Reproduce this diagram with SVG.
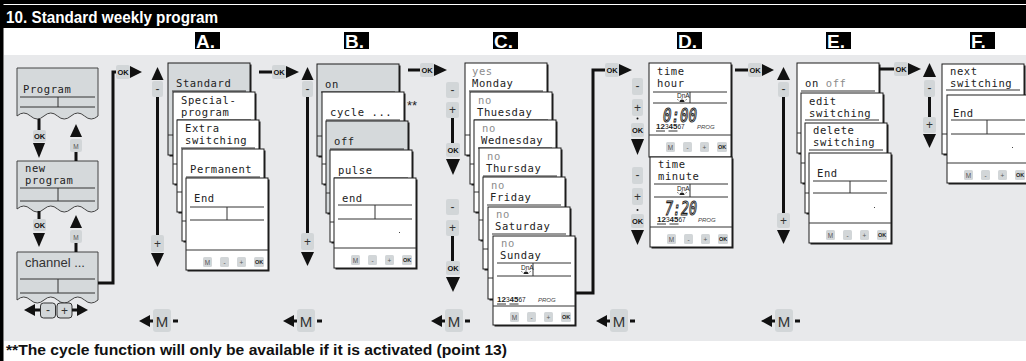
<svg xmlns="http://www.w3.org/2000/svg" width="1026" height="361" viewBox="0 0 1026 361">
<defs>
<style>
.lcd{font-family:"DejaVu Sans Mono","Liberation Mono",monospace;font-size:10.5px;letter-spacing:0.6px;fill:#222}
.dim{fill:#8c8c8c}
.cd{fill:#fff;stroke:#1c1c1c;stroke-width:1}
.cg{fill:#d5d9db;stroke:#1c1c1c;stroke-width:1}
.pb{fill:#d5d9db;stroke:#444;stroke-width:1}
.sh{fill:#1c1c1c}
.ln{stroke:#333;stroke-width:1;fill:none}
.th{stroke:#111;stroke-width:3;fill:none}
.ah{fill:#111}
.key{fill:#d2d6d8}
.kt{font-family:"Liberation Sans",sans-serif;font-size:12px;fill:#333;text-anchor:middle}
.mt{font-family:"Liberation Sans",sans-serif;font-size:15px;fill:#333;text-anchor:middle}
.ok{font-family:"Liberation Sans",sans-serif;font-size:7.5px;font-weight:bold;fill:#111;text-anchor:middle}
.bt{font-family:"Liberation Sans",sans-serif;font-size:6.5px;fill:#555;text-anchor:middle}
.bo{font-family:"Liberation Sans",sans-serif;font-size:5.5px;font-weight:bold;fill:#222;text-anchor:middle}
.let{font-family:"Liberation Sans",sans-serif;font-size:19px;font-weight:bold;fill:#fff}
.seg{font-family:"DejaVu Sans Mono",monospace;font-style:italic;font-size:20px;fill:#ffffff;stroke:#1a1a1a;stroke-width:1.1}
.sm{font-family:"Liberation Sans",sans-serif;font-size:6.5px;fill:#222}
.dn{font-family:"Liberation Sans",sans-serif;font-size:6.5px;fill:#222}
.pr{font-family:"Liberation Sans",sans-serif;font-size:6px;font-style:italic;fill:#444}
</style>
<g id="bt">
<rect class="key" x="17" y="0" width="9" height="10" rx="1.5"/><text class="bt" x="21.5" y="7.5">M</text>
<rect class="key" x="34" y="0" width="9" height="10" rx="1.5"/><text class="bt" x="38.5" y="7.5">-</text>
<rect class="key" x="51" y="0" width="9" height="10" rx="1.5"/><text class="bt" x="55.5" y="7.5">+</text>
<rect class="key" x="68" y="0" width="10" height="10" rx="1.5"/><text class="bo" x="73" y="7">OK</text>
</g>
<g id="wk">
<text class="sm"><tspan font-weight="bold" font-size="8">12</tspan><tspan>3</tspan><tspan font-weight="bold" font-size="8">45</tspan><tspan>67</tspan></text>
<line class="ln" x1="0" y1="2" x2="9" y2="2"/><line class="ln" x1="12.5" y1="2" x2="21.5" y2="2"/>
<text class="pr" x="41" y="0">PROG</text>
</g>
<g id="dna">
<text class="dn" x="0" y="0">DnA</text>
<path d="M2.5,4 a2.5,2.5 0 0 1 5,0 z" fill="#222"/>
<path d="M5,0.8 V0 M1.5,2.2 L0.3,1.4 M8.5,2.2 L9.7,1.4" stroke="#222" stroke-width="0.7"/>
</g>
</defs>

<!-- frame and header -->
<rect x="0" y="0" width="1026" height="361" fill="#fff"/>
<rect x="0" y="0" width="1026" height="4" fill="#000"/>
<rect x="0" y="5" width="1026" height="23" fill="#000"/>
<text x="6" y="23" font-family="Liberation Sans, sans-serif" font-weight="bold" font-size="16" fill="#fff" textLength="212" lengthAdjust="spacingAndGlyphs">10. Standard weekly program</text>
<rect x="0" y="0" width="3.5" height="361" fill="#000"/>
<rect x="4" y="55" width="1022" height="286" fill="#e8e9eb"/>
<text x="6" y="355" font-family="Liberation Sans, sans-serif" font-weight="bold" font-size="14" fill="#111" textLength="501" lengthAdjust="spacingAndGlyphs">**The cycle function will only be available if it is activated (point 13)</text>

<!-- section letters -->
<g id="letters">
<rect x="195" y="32" width="25" height="17" fill="#000"/><text class="let" x="196" y="48">A.</text>
<rect x="344" y="32" width="25" height="17" fill="#000"/><text class="let" x="345" y="48">B.</text>
<rect x="493" y="32" width="25" height="17" fill="#000"/><text class="let" x="494" y="48">C.</text>
<rect x="677" y="32" width="25" height="17" fill="#000"/><text class="let" x="678" y="48">D.</text>
<rect x="826" y="32" width="25" height="17" fill="#000"/><text class="let" x="827" y="48">E.</text>
<rect x="970" y="32" width="25" height="17" fill="#000"/><text class="let" x="971" y="48">F.</text>
</g>

<!-- left column -->
<g id="n-program">
<path class="pb" d="M17,68 H98 V116 q-6.75,6 -13.5,0 t-13.5,0 t-13.5,0 t-13.5,0 t-13.5,0 t-13.5,0 Z"/>
<text class="lcd" x="23" y="93">Program</text>
<line class="ln" x1="20" y1="97" x2="95" y2="97"/><line class="ln" x1="20" y1="107" x2="95" y2="107"/><line class="ln" x1="58" y1="97" x2="58" y2="107"/>
</g>
<g id="n-newprogram">
<path class="pb" d="M17,161 H98 V209 q-6.75,6 -13.5,0 t-13.5,0 t-13.5,0 t-13.5,0 t-13.5,0 t-13.5,0 Z"/>
<text class="lcd" x="25" y="172">new</text>
<text class="lcd" x="25" y="184">program</text>
<line class="ln" x1="20" y1="188" x2="95" y2="188"/><line class="ln" x1="20" y1="201" x2="95" y2="201"/><line class="ln" x1="58" y1="188" x2="58" y2="201"/>
</g>
<g id="n-channel">
<path class="pb" d="M17,252 H98 V300 q-6.75,6 -13.5,0 t-13.5,0 t-13.5,0 t-13.5,0 t-13.5,0 t-13.5,0 Z"/>
<text x="25" y="267" font-family="Liberation Sans, sans-serif" font-size="13" fill="#333">channel ...</text>
<line class="ln" x1="20" y1="279" x2="95" y2="279"/><line class="ln" x1="20" y1="293" x2="95" y2="293"/><line class="ln" x1="58" y1="279" x2="58" y2="293"/>
<polygon class="ah" points="24,310 35,304 35,316"/><line class="th" x1="34" y1="310" x2="41" y2="310"/>
<rect x="40.5" y="303" width="15" height="15" rx="3" fill="#d2d6d8" stroke="#333"/><text class="kt" x="48" y="314">-</text>
<rect x="57" y="303" width="15" height="15" rx="3" fill="#d2d6d8" stroke="#333"/><text class="kt" x="64.5" y="315">+</text>
<line class="th" x1="72" y1="310" x2="78" y2="310"/><polygon class="ah" points="77,304 77,316 88,310"/>
</g>

<!-- column A -->
<g id="a1"><rect class="sh" x="169.5" y="64.5" width="82" height="92"/><rect class="cg" x="168" y="63" width="82" height="92"/><text class="lcd" x="176" y="87">Standard</text><line class="ln" x1="172" y1="91" x2="246" y2="91"/><line class="ln" x1="168" y1="135" x2="250" y2="135"/></g>
<g id="a2"><rect class="sh" x="174.5" y="93.5" width="82" height="92"/><rect class="cd" x="173" y="92" width="82" height="92"/><text class="lcd" x="181" y="104">Special-</text><text class="lcd" x="181" y="116">program</text><line class="ln" x1="177" y1="120" x2="251" y2="120"/><line class="ln" x1="173" y1="164" x2="255" y2="164"/></g>
<g id="a3"><rect class="sh" x="178.5" y="121.5" width="82" height="92"/><rect class="cd" x="177" y="120" width="82" height="92"/><text class="lcd" x="185" y="132">Extra</text><text class="lcd" x="185" y="144">switching</text><line class="ln" x1="181" y1="148" x2="255" y2="148"/><line class="ln" x1="177" y1="192" x2="259" y2="192"/></g>
<g id="a4"><rect class="sh" x="183.5" y="150.5" width="82" height="92"/><rect class="cd" x="182" y="149" width="82" height="92"/><text class="lcd" x="190" y="173">Permanent</text><line class="ln" x1="186" y1="177" x2="260" y2="177"/><line class="ln" x1="182" y1="221" x2="264" y2="221"/></g>
<g id="a5"><rect class="sh" x="187.5" y="179.5" width="82" height="92"/><rect class="cd" x="186" y="178" width="82" height="92"/><text class="lcd" x="194" y="202">End</text>
<line class="ln" x1="190" y1="207" x2="264" y2="207"/><line class="ln" x1="190" y1="220" x2="264" y2="220"/><line class="ln" x1="227" y1="207" x2="227" y2="220"/><line class="ln" x1="186" y1="250" x2="268" y2="250"/><use href="#bt" x="186" y="257"/></g>

<!-- column B -->
<g id="b1"><rect class="sh" x="318.5" y="65.5" width="82" height="92"/><rect class="cg" x="317" y="64" width="82" height="92"/><text class="lcd" x="325" y="88">on</text><line class="ln" x1="321" y1="92" x2="395" y2="92"/><line class="ln" x1="317" y1="136" x2="399" y2="136"/></g>
<g id="b2"><rect class="sh" x="323.5" y="93.5" width="82" height="92"/><rect class="cd" x="322" y="92" width="82" height="92"/><text class="lcd" x="330" y="116">cycle ...</text><line class="ln" x1="326" y1="120" x2="400" y2="120"/><line class="ln" x1="322" y1="164" x2="404" y2="164"/>
<text x="407" y="110" font-family="Liberation Sans, sans-serif" font-size="13" fill="#222">**</text></g>
<g id="b3"><rect class="sh" x="327.5" y="122.5" width="82" height="92"/><rect class="cg" x="326" y="121" width="82" height="92"/><text class="lcd" x="334" y="145">off</text><line class="ln" x1="330" y1="149" x2="404" y2="149"/><line class="ln" x1="326" y1="193" x2="408" y2="193"/></g>
<g id="b4"><rect class="sh" x="331.5" y="151.5" width="82" height="92"/><rect class="cd" x="330" y="150" width="82" height="92"/><text class="lcd" x="338" y="174">pulse</text><line class="ln" x1="334" y1="178" x2="408" y2="178"/><line class="ln" x1="330" y1="222" x2="412" y2="222"/></g>
<g id="b5"><rect class="sh" x="335.5" y="179.5" width="82" height="90"/><rect class="cd" x="334" y="178" width="82" height="90"/><text class="lcd" x="342" y="202">end</text>
<line class="ln" x1="338" y1="205" x2="412" y2="205"/><line class="ln" x1="338" y1="219" x2="412" y2="219"/><line class="ln" x1="375" y1="205" x2="375" y2="219"/><rect x="399" y="232" width="1" height="1" fill="#444"/><line class="ln" x1="334" y1="248" x2="416" y2="248"/><use href="#bt" x="334" y="255"/></g>

<!-- column C -->
<g id="c1"><rect class="sh" x="466.5" y="64.5" width="82" height="92"/><rect class="cd" x="465" y="63" width="82" height="92"/><text class="lcd dim" x="472" y="75">yes</text><text class="lcd" x="472" y="87">Monday</text><line class="ln" x1="469" y1="91" x2="543" y2="91"/><line class="ln" x1="465" y1="135" x2="547" y2="135"/></g>
<g id="c2"><rect class="sh" x="471.5" y="93.5" width="82" height="92"/><rect class="cd" x="470" y="92" width="82" height="92"/><text class="lcd dim" x="478" y="104">no</text><text class="lcd" x="477" y="116">Thuesday</text><line class="ln" x1="474" y1="120" x2="548" y2="120"/><line class="ln" x1="470" y1="164" x2="552" y2="164"/></g>
<g id="c3"><rect class="sh" x="475.5" y="121.5" width="82" height="92"/><rect class="cd" x="474" y="120" width="82" height="92"/><text class="lcd dim" x="482" y="132">no</text><text class="lcd" x="481" y="144">Wednesday</text><line class="ln" x1="478" y1="148" x2="552" y2="148"/><line class="ln" x1="474" y1="192" x2="556" y2="192"/></g>
<g id="c4"><rect class="sh" x="480.5" y="149.5" width="82" height="92"/><rect class="cd" x="479" y="148" width="82" height="92"/><text class="lcd dim" x="487" y="160">no</text><text class="lcd" x="486" y="172">Thursday</text><line class="ln" x1="483" y1="176" x2="557" y2="176"/><line class="ln" x1="479" y1="220" x2="561" y2="220"/></g>
<g id="c5"><rect class="sh" x="484.5" y="178.5" width="82" height="92"/><rect class="cd" x="483" y="177" width="82" height="92"/><text class="lcd dim" x="491" y="189">no</text><text class="lcd" x="490" y="201">Friday</text><line class="ln" x1="487" y1="205" x2="561" y2="205"/><line class="ln" x1="483" y1="249" x2="565" y2="249"/></g>
<g id="c6"><rect class="sh" x="489.5" y="208.5" width="82" height="92"/><rect class="cd" x="488" y="207" width="82" height="92"/><text class="lcd dim" x="496" y="218">no</text><text class="lcd" x="495" y="230">Saturday</text><line class="ln" x1="492" y1="234" x2="566" y2="234"/><line class="ln" x1="488" y1="278" x2="570" y2="278"/></g>
<g id="c7"><rect class="sh" x="494.5" y="237.5" width="82" height="89"/><rect class="cd" x="493" y="236" width="82" height="89"/><text class="lcd dim" x="501" y="247">no</text><text class="lcd" x="500" y="259">Sunday</text>
<line class="ln" x1="497" y1="263" x2="571" y2="263"/><line class="ln" x1="497" y1="276" x2="571" y2="276"/><line class="ln" x1="533" y1="263" x2="533" y2="276"/>
<use href="#dna" x="521" y="270"/><use href="#wk" x="497" y="302"/>
<line class="ln" x1="493" y1="306" x2="575" y2="306"/><use href="#bt" x="493" y="312"/></g>

<!-- column D -->
<g id="d1"><rect class="sh" x="650.5" y="64.5" width="82" height="94"/><rect class="cd" x="649" y="63" width="82" height="94"/><text class="lcd" x="657" y="75">time</text><text class="lcd" x="657" y="87">hour</text>
<line class="ln" x1="653" y1="92" x2="727" y2="92"/><line class="ln" x1="653" y1="103" x2="727" y2="103"/><line class="ln" x1="690" y1="92" x2="690" y2="103"/>
<use href="#dna" x="677" y="98"/>
<text class="seg" x="663" y="122" textLength="34" lengthAdjust="spacingAndGlyphs">0:00</text>
<use href="#wk" x="656" y="129"/>
<line class="ln" x1="649" y1="135" x2="731" y2="135"/><use href="#bt" x="649" y="142"/></g>
<g id="d2"><rect class="sh" x="651.5" y="158.5" width="82" height="90"/><rect class="cd" x="650" y="157" width="82" height="90"/><text class="lcd" x="658" y="168">time</text><text class="lcd" x="658" y="180">minute</text>
<line class="ln" x1="654" y1="184" x2="728" y2="184"/><line class="ln" x1="654" y1="197" x2="728" y2="197"/><line class="ln" x1="690" y1="184" x2="690" y2="197"/>
<use href="#dna" x="677" y="191"/>
<text class="seg" x="665" y="215" textLength="32" lengthAdjust="spacingAndGlyphs">7:20</text>
<use href="#wk" x="657" y="222"/>
<line class="ln" x1="650" y1="227" x2="732" y2="227"/><use href="#bt" x="650" y="234"/></g>

<!-- column E -->
<g id="e1"><rect class="sh" x="798.5" y="64.5" width="82" height="90"/><rect class="cd" x="797" y="63" width="82" height="90"/><text class="lcd" x="805" y="87">on <tspan class="dim">off</tspan></text><line class="ln" x1="801" y1="91" x2="875" y2="91"/><line class="ln" x1="797" y1="133" x2="879" y2="133"/></g>
<g id="e2"><rect class="sh" x="802.5" y="94.5" width="82" height="90"/><rect class="cd" x="801" y="93" width="82" height="90"/><text class="lcd" x="809" y="105">edit</text><text class="lcd" x="809" y="117">switching</text><line class="ln" x1="805" y1="120" x2="879" y2="120"/><line class="ln" x1="801" y1="163" x2="883" y2="163"/></g>
<g id="e3"><rect class="sh" x="806.5" y="124.5" width="82" height="90"/><rect class="cd" x="805" y="123" width="82" height="90"/><text class="lcd" x="813" y="134">delete</text><text class="lcd" x="813" y="146">switching</text><line class="ln" x1="809" y1="150" x2="883" y2="150"/><line class="ln" x1="805" y1="193" x2="887" y2="193"/></g>
<g id="e4"><rect class="sh" x="810.5" y="154.5" width="82" height="90"/><rect class="cd" x="809" y="153" width="82" height="90"/><text class="lcd" x="817" y="177">End</text>
<line class="ln" x1="813" y1="181" x2="887" y2="181"/><line class="ln" x1="813" y1="193" x2="887" y2="193"/><line class="ln" x1="850" y1="181" x2="850" y2="193"/><rect x="874" y="207" width="1" height="1" fill="#444"/>
<line class="ln" x1="809" y1="223" x2="891" y2="223"/><use href="#bt" x="809" y="230"/></g>

<!-- column F -->
<g id="f1"><rect class="sh" x="943.5" y="65.5" width="82" height="90"/><rect class="cd" x="942" y="64" width="82" height="90"/><text class="lcd" x="950" y="75">next</text><text class="lcd" x="950" y="87">switching</text><line class="ln" x1="946" y1="90" x2="1020" y2="90"/><line class="ln" x1="942" y1="134" x2="1024" y2="134"/></g>
<g id="f2"><rect class="sh" x="948.5" y="96.5" width="82" height="88"/><rect class="cd" x="947" y="95" width="82" height="88"/><text class="lcd" x="953" y="117">End</text>
<line class="ln" x1="951" y1="120" x2="1025" y2="120"/><line class="ln" x1="951" y1="134" x2="1025" y2="134"/><line class="ln" x1="987" y1="120" x2="987" y2="134"/><rect x="1012" y="147" width="1" height="1" fill="#444"/>
<line class="ln" x1="947" y1="163" x2="1029" y2="163"/><use href="#bt" x="947" y="170"/></g>

<!-- connectors -->
<g id="connectors">
<line class="th" x1="39" y1="119" x2="39" y2="131"/>
<rect class="key" x="33" y="130" width="13" height="12" rx="2"/><text class="ok" x="39.5" y="139">OK</text>
<polygon class="ah" points="33,143 45,143 39,158"/>
<polygon class="ah" points="70,137 82,137 76,124"/>
<rect class="key" x="70" y="139" width="12" height="13" rx="2"/><text class="bt" x="76" y="148.5" font-size="8">M</text>
<line class="th" x1="76" y1="152" x2="76" y2="161"/>
<line class="th" x1="39" y1="211" x2="39" y2="220"/>
<rect class="key" x="33" y="219" width="13" height="12" rx="2"/><text class="ok" x="39.5" y="228">OK</text>
<polygon class="ah" points="33,233 45,233 39,247"/>
<polygon class="ah" points="70,228 82,228 76,215"/>
<rect class="key" x="70" y="230" width="12" height="13" rx="2"/><text class="bt" x="76" y="239.5" font-size="8">M</text>
<line class="th" x1="76" y1="243" x2="76" y2="252"/>

<path class="th" d="M98,283 H113 V72 H117"/>
<rect class="key" x="116" y="65" width="14" height="14" rx="2"/><text class="ok" x="123" y="75">OK</text>
<polygon class="ah" points="130,66 130,78 142,72"/>

<polygon class="ah" points="151.5,80 163.5,80 157.5,67"/>
<rect class="key" x="152" y="81" width="11" height="16" rx="2"/><text class="kt" x="157.5" y="93">-</text>
<line class="th" x1="157.5" y1="97" x2="157.5" y2="235"/>
<rect class="key" x="151" y="235" width="13" height="17" rx="2"/><text class="kt" x="157.5" y="248">+</text>
<polygon class="ah" points="151,253 164,253 157.5,267"/>

<line class="th" x1="259" y1="72" x2="273" y2="72"/>
<rect class="key" x="272" y="65" width="14" height="14" rx="2"/><text class="ok" x="279" y="75">OK</text>
<polygon class="ah" points="286,66 286,78 299,72"/>

<polygon class="ah" points="301.5,80 313.5,80 307.5,67"/>
<rect class="key" x="302" y="81" width="11" height="16" rx="2"/><text class="kt" x="307.5" y="93">-</text>
<line class="th" x1="307.5" y1="97" x2="307.5" y2="233"/>
<rect class="key" x="301" y="233" width="13" height="17" rx="2"/><text class="kt" x="307.5" y="246">+</text>
<polygon class="ah" points="301,252 314,252 307.5,266"/>

<line class="th" x1="408" y1="70" x2="421" y2="70"/>
<rect class="key" x="420" y="63" width="14" height="14" rx="2"/><text class="ok" x="427" y="73">OK</text>
<polygon class="ah" points="434,64 434,76 447,70"/>

<rect class="key" x="446" y="82" width="13" height="16" rx="2"/><text class="kt" x="452.5" y="94">-</text>
<rect class="key" x="446" y="102" width="13" height="16" rx="2"/><text class="kt" x="452.5" y="114">+</text>
<line class="th" x1="452.5" y1="118" x2="452.5" y2="143"/>
<rect class="key" x="446" y="143" width="14" height="14" rx="2"/><text class="ok" x="453" y="153" font-size="8.5">OK</text>
<polygon class="ah" points="446,159 460,159 453,175"/>
<rect class="key" x="446" y="199" width="13" height="16" rx="2"/><text class="kt" x="452.5" y="211">-</text>
<rect class="key" x="446" y="220" width="13" height="16" rx="2"/><text class="kt" x="452.5" y="232">+</text>
<line class="th" x1="452.5" y1="236" x2="452.5" y2="261"/>
<rect class="key" x="446" y="261" width="14" height="14" rx="2"/><text class="ok" x="453" y="271" font-size="8.5">OK</text>
<polygon class="ah" points="446,277 460,277 453,292"/>

<path class="th" d="M576,293 H593 V70 H606"/>
<rect class="key" x="605" y="63" width="14" height="14" rx="2"/><text class="ok" x="612" y="73">OK</text>
<polygon class="ah" points="619,64 619,76 632,70"/>

<rect class="key" x="632" y="78" width="11" height="17" rx="2"/><text class="kt" x="637.5" y="90">-</text>
<rect class="key" x="632" y="99" width="11" height="17" rx="2"/><text class="kt" x="637.5" y="112">+</text>
<circle cx="637.5" cy="118.5" r="1" fill="#111"/>
<rect class="key" x="631" y="123" width="13" height="14" rx="2"/><text class="ok" x="637.5" y="133" font-size="8.5">OK</text>
<polygon class="ah" points="631,139 644,139 637.5,155"/>
<rect class="key" x="632" y="167" width="11" height="17" rx="2"/><text class="kt" x="637.5" y="179">-</text>
<rect class="key" x="632" y="188" width="11" height="17" rx="2"/><text class="kt" x="637.5" y="201">+</text>
<circle cx="637.5" cy="210" r="1" fill="#111"/>
<rect class="key" x="631" y="214" width="13" height="14" rx="2"/><text class="ok" x="637.5" y="224" font-size="8.5">OK</text>
<polygon class="ah" points="631,230 644,230 637.5,245"/>

<line class="th" x1="735" y1="70" x2="749" y2="70"/>
<rect class="key" x="748" y="63" width="14" height="14" rx="2"/><text class="ok" x="755" y="73">OK</text>
<polygon class="ah" points="762,64 762,76 774,70"/>

<polygon class="ah" points="777,80 790,80 783.5,67"/>
<rect class="key" x="778" y="82" width="11" height="15" rx="2"/><text class="kt" x="783.5" y="93">-</text>
<line class="th" x1="783.5" y1="97" x2="783.5" y2="213"/>
<rect class="key" x="777" y="213" width="13" height="15" rx="2"/><text class="kt" x="783.5" y="225">+</text>
<polygon class="ah" points="777,230 790,230 783.5,244"/>

<line class="th" x1="879" y1="69" x2="895" y2="69"/>
<rect class="key" x="894" y="62" width="14" height="14" rx="2"/><text class="ok" x="901" y="72">OK</text>
<polygon class="ah" points="908,63 908,75 921,69"/>

<polygon class="ah" points="923,77 936,77 929.5,63"/>
<rect class="key" x="924" y="80" width="11" height="17" rx="2"/><text class="kt" x="929.5" y="92">-</text>
<line class="th" x1="929.5" y1="97" x2="929.5" y2="117"/>
<rect class="key" x="923" y="117" width="13" height="16" rx="2"/><text class="kt" x="929.5" y="129">+</text>
<polygon class="ah" points="923,134 936,134 929.5,148"/>

<polygon class="ah" points="139,321 150,315 150,327"/><line class="th" x1="149" y1="321" x2="154" y2="321"/>
<rect class="key" x="153" y="309" width="18" height="23" rx="3"/><text class="mt" x="162" y="326.5">M</text><line class="th" x1="173" y1="321" x2="178" y2="321" stroke-width="2.5"/>
<polygon class="ah" points="283,321 294,315 294,327"/><line class="th" x1="293" y1="321" x2="298" y2="321"/>
<rect class="key" x="297" y="309" width="18" height="23" rx="3"/><text class="mt" x="306" y="326.5">M</text><line class="th" x1="317" y1="321" x2="322" y2="321" stroke-width="2.5"/>
<polygon class="ah" points="431,321 442,315 442,327"/><line class="th" x1="441" y1="321" x2="446" y2="321"/>
<rect class="key" x="445" y="309" width="18" height="23" rx="3"/><text class="mt" x="454" y="326.5">M</text><line class="th" x1="465" y1="321" x2="470" y2="321" stroke-width="2.5"/>
<polygon class="ah" points="596,321 607,315 607,327"/><line class="th" x1="606" y1="321" x2="611" y2="321"/>
<rect class="key" x="610" y="309" width="18" height="23" rx="3"/><text class="mt" x="619" y="326.5">M</text><line class="th" x1="630" y1="321" x2="635" y2="321" stroke-width="2.5"/>
<polygon class="ah" points="761,321 772,315 772,327"/><line class="th" x1="771" y1="321" x2="776" y2="321"/>
<rect class="key" x="775" y="309" width="18" height="23" rx="3"/><text class="mt" x="784" y="326.5">M</text><line class="th" x1="795" y1="321" x2="800" y2="321" stroke-width="2.5"/>
</g>
</svg>
